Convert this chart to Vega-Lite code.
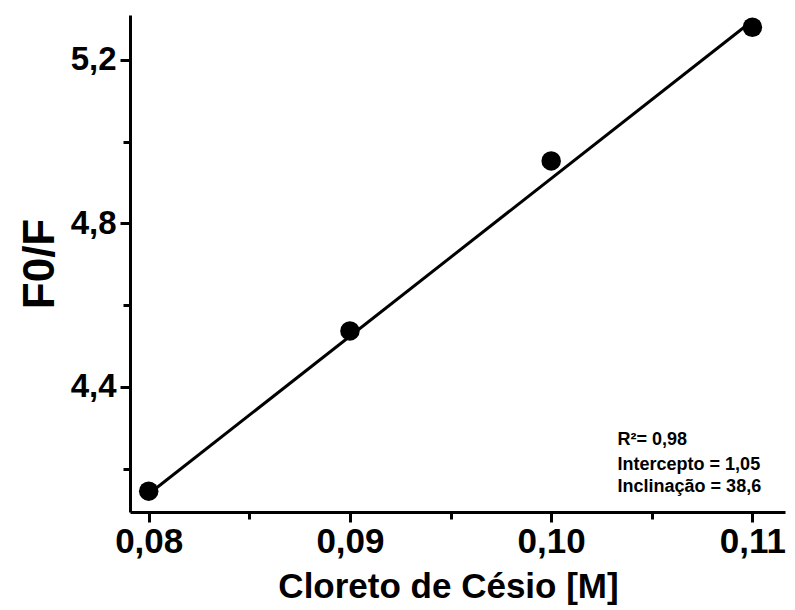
{
  "$schema": "https://vega.github.io/schema/vega-lite/v6.json",
  "width": 655,
  "height": 497,
  "autosize": {"type": "none"},
  "padding": {"left": 130, "top": 15, "right": 10, "bottom": 98},
  "background": "white",
  "config": {
    "view": {"stroke": null},
    "axis": {
      "domainColor": "black",
      "domainWidth": 3,
      "tickColor": "black",
      "tickWidth": 3,
      "labelColor": "black",
      "titleColor": "black",
      "grid": false,
      "labelFontWeight": "bold",
      "titleFontWeight": "bold"
    }
  },
  "datasets": {
    "points": [
      {"conc": 0.08, "f0f": 4.145},
      {"conc": 0.09, "f0f": 4.537},
      {"conc": 0.10, "f0f": 4.953},
      {"conc": 0.11, "f0f": 5.28}
    ],
    "fit": [
      {"conc": 0.08, "f0f": 4.138},
      {"conc": 0.11, "f0f": 5.296}
    ],
    "notes": [
      {"conc": 0.1033, "f0f": 4.27, "label": "R²= 0,98"},
      {"conc": 0.1033, "f0f": 4.209, "label": "Intercepto = 1,05"},
      {"conc": 0.1033, "f0f": 4.155, "label": "Inclinação = 38,6"}
    ]
  },
  "layer": [
    {
      "data": {"name": "fit"},
      "mark": {"type": "line", "color": "black", "strokeWidth": 3},
      "encoding": {
        "x": {
          "field": "conc",
          "type": "quantitative",
          "scale": {"domain": [0.07907, 0.11162], "nice": false, "zero": false},
          "axis": {
            "title": "Cloreto de Césio [M]",
            "values": [0.08, 0.085, 0.09, 0.095, 0.1, 0.105, 0.11],
            "labelExpr": "abs(round(datum.value*200)) % 2 == 0 ? replace(format(datum.value, '.2f'), '.', ',') : ''",
            "tickSize": {"condition": {"test": "abs(round(datum.value*200)) % 2 == 0", "value": 10}, "value": 7},
            "labelFont": "Liberation Sans",
            "labelFontSize": 35,
            "labelPadding": 2,
            "labelOverlap": false,
            "titleFont": "Liberation Sans",
            "titleFontSize": 35,
            "titlePadding": 10,
            "titleX": 318
          }
        },
        "y": {
          "field": "f0f",
          "type": "quantitative",
          "scale": {"domain": [4.094, 5.31], "nice": false, "zero": false},
          "axis": {
            "title": "F0/F",
            "values": [4.2, 4.4, 4.6, 4.8, 5.0, 5.2],
            "labelExpr": "abs(round(datum.value*5)) % 2 == 0 ? replace(format(datum.value, '.1f'), '.', ',') : ''",
            "tickSize": {"condition": {"test": "abs(round(datum.value*5)) % 2 == 0", "value": 10}, "value": 7},
            "labelFont": "Liberation Sans",
            "labelFontSize": 33,
            "labelPadding": 4,
            "labelOverlap": false,
            "titleFont": "Liberation Sans",
            "titleFontSize": 44,
            "titlePadding": 8
          }
        }
      }
    },
    {
      "data": {"name": "points"},
      "mark": {"type": "point", "filled": true, "color": "black", "size": 380, "opacity": 1},
      "encoding": {
        "x": {"field": "conc", "type": "quantitative"},
        "y": {"field": "f0f", "type": "quantitative"}
      }
    },
    {
      "data": {"name": "notes"},
      "mark": {"type": "text", "align": "left", "baseline": "middle", "font": "Liberation Sans", "fontWeight": "bold", "fontSize": 18, "color": "black"},
      "encoding": {
        "x": {"field": "conc", "type": "quantitative"},
        "y": {"field": "f0f", "type": "quantitative"},
        "text": {"field": "label"}
      }
    }
  ]
}
